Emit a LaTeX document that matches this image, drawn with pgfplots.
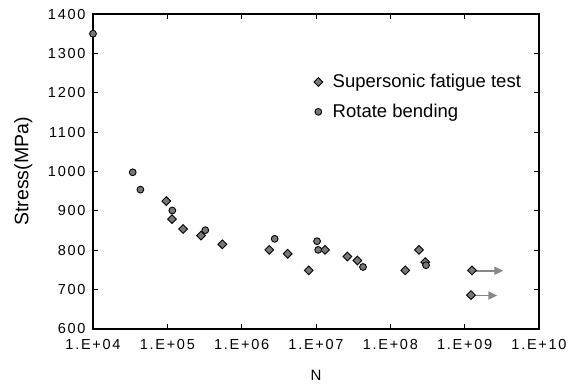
\documentclass[border=0pt]{standalone}
\usepackage{fontspec}
\setmainfont{Liberation Sans}
\usepackage{pgfplots}
\pgfplotsset{compat=1.18}
\usetikzlibrary{arrows.meta}
\definecolor{markgray}{HTML}{777777}
\definecolor{arrowgray}{HTML}{888888}
\begin{document}
\begin{tikzpicture}
\begin{axis}[
  scale only axis,
  width=446pt, height=315pt,
  xmode=log,
  xmin=1e4, xmax=1e10,
  ymin=600, ymax=1400,
  xtick={1e4,1e5,1e6,1e7,1e8,1e9,1e10},
  xticklabels={1.E+04,1.E+05,1.E+06,1.E+07,1.E+08,1.E+09,1.E+10},
  ytick={600,700,800,900,1000,1100,1200,1300,1400},
  yticklabels={600,700,800,900,1000,1100,1200,1300,1400},
  minor xtick={},
  xminorticks=false,
  tick align=inside,
  major tick length=5pt,
  tick style={black, line width=1pt},
  axis line style={black, line width=1.5pt},
  ticklabel style={font=\fontsize{14.5}{15}\selectfont\addfontfeatures{LetterSpace=12}},
  xticklabel style={yshift=-7pt},
  yticklabel style={xshift=-4pt},
  xlabel={N},
  ylabel={Stress(MPa)},
  xlabel style={font=\fontsize{15}{16}\selectfont, at={(axis description cs:0.5,-0.146)}, anchor=center},
  ylabel style={font=\fontsize{19.5}{20}\selectfont, at={(axis description cs:-0.156,0.5)}, anchor=center},
  legend style={draw=none, fill=none, at={(axis description cs:0.495,0.815)}, anchor=north west,
    font=\fontsize{18.5}{19}\selectfont, row sep=11pt, inner sep=0pt,
    /tikz/every odd column/.append style={column sep=8pt}},
  legend cell align=left,
  clip=false,
]
\addplot[only marks, mark=square*, mark size=3.1pt, mark options={rotate=45, fill=markgray, draw=black, line width=0.9pt}]
coordinates {
(9.68e4,925) (1.156e5,879) (1.626e5,854) (2.84e5,837) (5.5e5,815)
(2.355e6,801) (4.16e6,791) (7.98e6,749) (1.32e7,801) (2.64e7,784)
(3.6e7,774) (1.59e8,749) (2.43e8,801) (2.95e8,770) (1.256e9,749) (1.216e9,686)
};
\addlegendentry{Supersonic fatigue test}
\addplot[only marks, mark=*, mark size=3.4pt, mark options={fill=markgray, draw=black, line width=0.9pt}]
coordinates {
(1e4,1350) (3.42e4,998) (4.34e4,954) (1.167e5,901) (3.24e5,851)
(2.78e6,829) (1.033e7,823) (1.07e7,801) (4.29e7,757.5) (3.02e8,762)
};
\addlegendentry{Rotate bending}
\addplot[arrowgray, line width=1.8pt, -{Triangle[length=9pt, width=8pt]}, forget plot]
coordinates {(1.3e9,748) (3.31e9,748)};
\addplot[arrowgray, line width=1.8pt, -{Triangle[length=9pt, width=8pt]}, forget plot]
coordinates {(1.26e9,685) (2.75e9,685)};
\end{axis}
\path[use as bounding box] (-93pt,-55pt) rectangle (494pt,329pt);
\end{tikzpicture}
\end{document}
